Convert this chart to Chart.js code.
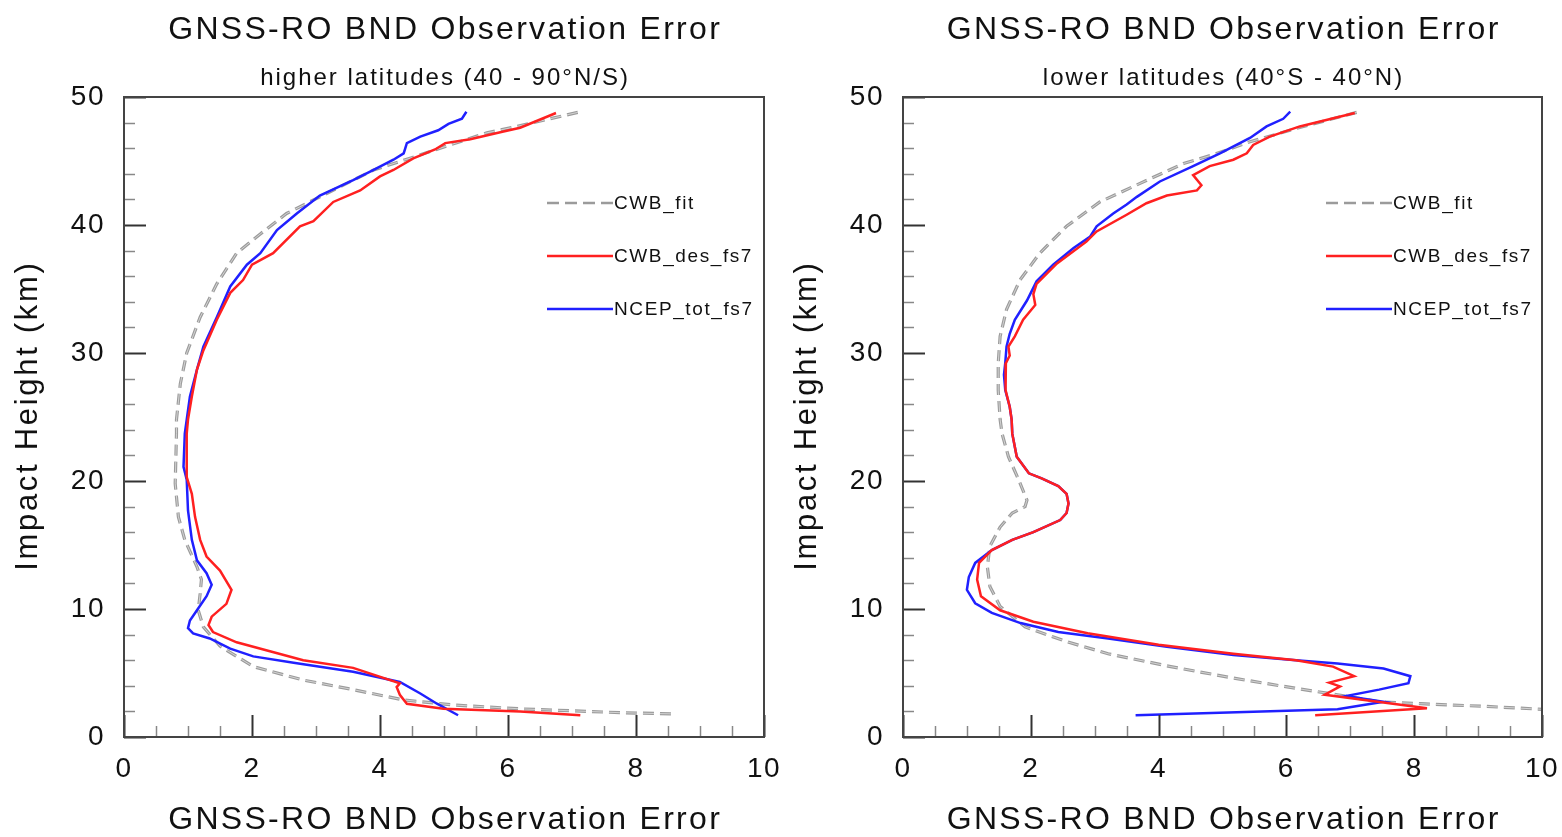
<!DOCTYPE html>
<html>
<head>
<meta charset="utf-8">
<script src="https://cdn.jsdelivr.net/npm/chart.js@4.4.1/dist/chart.umd.min.js"></script>
<style>
  html, body { margin: 0; padding: 0; background: #fff; }
  #wrap { position: relative; width: 1562px; height: 837px; overflow: hidden; }
  .panel { position: absolute; top: 0; }
  #left { left: 0; }
  #right { left: 779px; }
</style>
</head>
<body>
<div id="wrap">
  <div class="panel" id="left"><canvas id="chartHi" width="781" height="837"></canvas></div>
  <div class="panel" id="right"><canvas id="chartLo" width="783" height="837"></canvas></div>
</div>
<script>
// --- data: impact height (km) vs observation error ---
// higher latitudes (40 - 90N/S)
const hiFitHeight = [48.8, 47.7, 47.2, 46.0, 45.3, 44.3, 42.2, 40.9, 39.3, 37.8, 35.4, 32.8, 30.0, 27.6, 24.8, 23.7, 19.8, 17.2, 15.4, 13.3, 12.3, 11.2, 9.9, 8.6, 7.1, 5.5, 4.45, 3.7, 2.9, 2.5, 2.2, 1.9, 1.8];
const hiFitError  = [7.09, 6.14, 5.67, 4.94, 4.52, 3.90, 3.06, 2.54, 2.13, 1.76, 1.45, 1.19, 0.98, 0.88, 0.82, 0.82, 0.80, 0.85, 0.95, 1.14, 1.21, 1.19, 1.16, 1.24, 1.50, 2.02, 2.80, 3.58, 4.36, 5.15, 6.19, 7.75, 8.61];

const hiDesHeight = [48.75, 47.6, 47.3, 46.7, 46.4, 45.9, 45.2, 44.3, 43.8, 42.7, 41.8, 40.3, 39.9, 37.8, 36.9, 35.7, 34.7, 32.6, 30.2, 28.7, 26.6, 24.8, 23.7, 20.3, 19.0, 17.2, 15.4, 14.1, 13.0, 11.5, 10.4, 9.4, 8.75, 8.2, 7.4, 6.7, 6.0, 5.4, 4.2, 3.9, 3.3, 2.6, 2.2, 2.0, 1.7];
const hiDesError  = [6.75, 6.19, 5.93, 5.41, 5.02, 4.86, 4.52, 4.21, 4.00, 3.69, 3.27, 2.96, 2.75, 2.33, 2.00, 1.86, 1.66, 1.45, 1.24, 1.14, 1.06, 1.00, 0.98, 0.98, 1.06, 1.11, 1.19, 1.29, 1.50, 1.68, 1.60, 1.37, 1.32, 1.39, 1.76, 2.28, 2.80, 3.58, 4.31, 4.26, 4.31, 4.42, 4.99, 6.19, 7.13];

const hiTotHeight = [48.85, 48.3, 47.9, 47.4, 46.9, 46.4, 45.6, 45.1, 44.3, 43.5, 42.3, 40.9, 39.6, 37.8, 36.9, 35.2, 32.8, 30.5, 28.7, 26.6, 24.8, 23.7, 21.1, 20.1, 17.7, 15.4, 13.8, 12.8, 11.9, 11.0, 9.9, 9.1, 8.5, 8.1, 7.7, 6.9, 6.3, 5.8, 5.1, 4.3, 3.4, 2.6, 1.7];
const hiTotError  = [5.35, 5.28, 5.07, 4.91, 4.63, 4.42, 4.37, 4.21, 3.90, 3.58, 3.06, 2.70, 2.39, 2.13, 1.92, 1.66, 1.45, 1.24, 1.14, 1.03, 0.98, 0.95, 0.93, 0.98, 1.00, 1.06, 1.14, 1.29, 1.37, 1.29, 1.14, 1.03, 1.00, 1.08, 1.34, 1.66, 2.02, 2.65, 3.58, 4.31, 4.63, 4.89, 5.22];

// lower latitudes (40S - 40N)
const loFitHeight = [48.8, 47.55, 46.5, 45.5, 44.8, 43.25, 41.8, 39.9, 37.8, 35.7, 33.4, 31.3, 29.2, 27.1, 24.8, 23.7, 21.9, 20.1, 18.5, 18.0, 17.5, 16.4, 14.9, 13.3, 11.75, 10.2, 8.6, 7.45, 6.5, 5.5, 4.6, 3.8, 3.3, 2.75, 2.6, 2.4, 2.15, 2.05];
const loFitError  = [7.10, 6.16, 5.43, 4.86, 4.39, 3.71, 3.08, 2.56, 2.14, 1.83, 1.62, 1.52, 1.49, 1.49, 1.52, 1.55, 1.65, 1.81, 1.94, 1.91, 1.71, 1.52, 1.36, 1.32, 1.36, 1.52, 1.91, 2.56, 3.21, 4.19, 5.17, 6.15, 6.80, 7.45, 8.10, 9.08, 10.06, 10.4];

const loDesHeight = [48.75, 47.7, 46.9, 46.25, 45.6, 45.1, 44.6, 43.9, 43.1, 42.7, 42.3, 41.7, 40.8, 39.5, 38.7, 37.0, 35.4, 34.6, 33.75, 32.6, 31.3, 30.5, 29.8, 29.2, 28.3, 27.1, 25.8, 24.8, 23.7, 21.9, 20.6, 20.2, 19.6, 19.0, 18.25, 17.5, 16.95, 16.0, 15.4, 14.6, 13.6, 12.3, 11.0, 9.9, 9.0, 8.1, 7.2, 6.5, 6.0, 5.5, 4.75, 4.25, 3.95, 3.3, 2.25, 1.7];
const loDesError  = [7.07, 6.21, 5.74, 5.48, 5.38, 5.17, 4.80, 4.54, 4.67, 4.60, 4.13, 3.81, 3.50, 3.03, 2.87, 2.41, 2.09, 2.04, 2.07, 1.88, 1.75, 1.65, 1.67, 1.61, 1.60, 1.61, 1.67, 1.70, 1.71, 1.78, 1.97, 2.17, 2.43, 2.56, 2.59, 2.56, 2.46, 2.04, 1.71, 1.39, 1.19, 1.16, 1.22, 1.52, 2.04, 2.89, 4.00, 5.17, 6.15, 6.73, 7.06, 6.67, 6.84, 6.60, 8.20, 6.45];

const loTotHeight = [48.85, 48.3, 47.7, 46.8, 45.6, 44.6, 43.4, 42.2, 41.6, 40.9, 39.9, 39.1, 38.2, 36.9, 35.6, 34.1, 32.6, 31.5, 30.5, 29.2, 28.3, 27.1, 25.8, 24.8, 23.7, 21.9, 20.6, 20.2, 19.6, 19.0, 18.25, 17.5, 16.95, 16.0, 15.4, 14.6, 13.6, 12.5, 11.5, 10.45, 9.7, 8.9, 8.2, 7.7, 7.05, 6.4, 6.0, 5.75, 5.35, 4.75, 4.2, 3.7, 3.2, 2.75, 2.16, 1.7];
const loTotError  = [6.06, 5.95, 5.69, 5.43, 4.96, 4.54, 4.02, 3.66, 3.50, 3.29, 3.03, 2.93, 2.67, 2.35, 2.09, 1.94, 1.75, 1.67, 1.62, 1.60, 1.58, 1.60, 1.67, 1.70, 1.71, 1.78, 1.97, 2.17, 2.43, 2.56, 2.59, 2.56, 2.46, 2.04, 1.71, 1.39, 1.13, 1.03, 1.00, 1.13, 1.39, 1.84, 2.43, 3.21, 4.13, 5.17, 6.15, 6.80, 7.52, 7.94, 7.91, 7.45, 6.93, 7.52, 6.80, 3.64];

const legendLabels = ['CWB_fit', 'CWB_des_fs7', 'NCEP_tot_fs7'];
const xTickValues = [0, 2, 4, 6, 8, 10];
const yTickValues = [0, 10, 20, 30, 40, 50];
const mainTitle = 'GNSS-RO BND Observation Error';
const yTitle = 'Impact Height (km)';

const FONT = '"Liberation Sans", Arial, Helvetica, sans-serif';
const RED = 'rgb(255, 32, 32)';
const BLUE = 'rgb(32, 32, 255)';
const GREY = 'rgb(155, 155, 155)';

function pts(err, hgt) {
  return err.map((e, i) => ({ x: e, y: hgt[i] }));
}

function spaced(ctx, str, x, y, size, spacing, align) {
  ctx.font = size + 'px ' + FONT;
  ctx.letterSpacing = spacing + 'px';
  ctx.textAlign = align;
  ctx.fillText(str, align === 'center' ? x + spacing / 2 : x, y);
}

// frame, inward ticks, titles and the legend box
const panelDecor = {
  id: 'panel',
  beforeDraw(chart) {
    chart.ctx.letterSpacing = '1.5px';
  },
  afterDraw(chart, args, opts) {
    const ctx = chart.ctx;
    const { left, right, top, bottom } = chart.chartArea;
    const xs = chart.scales.x, ys = chart.scales.y;
    const cx = (left + right) / 2;
    ctx.save();

    // minor / major ticks pointing into the plot
    for (let v = 0; v <= 10; v += 0.5) {
      const px = Math.round(xs.getPixelForValue(v)) + 0.5;
      const major = v % 2 === 0;
      ctx.strokeStyle = major ? '#333' : '#888';
      ctx.lineWidth = major ? 2 : 1.5;
      ctx.beginPath();
      ctx.moveTo(px, bottom);
      ctx.lineTo(px, bottom - (major ? 22 : 11));
      ctx.stroke();
    }
    for (let h = 0; h <= 50; h += 2) {
      const py = Math.round(ys.getPixelForValue(h)) + 0.5;
      const major = h % 10 === 0;
      ctx.strokeStyle = major ? '#333' : '#888';
      ctx.lineWidth = major ? 2 : 1.5;
      ctx.beginPath();
      ctx.moveTo(left, py);
      ctx.lineTo(left + (major ? 22 : 11), py);
      ctx.stroke();
    }

    ctx.strokeStyle = '#444';
    ctx.lineWidth = 2;
    ctx.strokeRect(left, top, right - left, bottom - top);

    // titles
    ctx.fillStyle = '#111';
    ctx.textBaseline = 'alphabetic';
    spaced(ctx, mainTitle, cx, 38.5, 32, 2.3, 'center');
    spaced(ctx, opts.subtitle, cx, 85, 24, 2, 'center');
    spaced(ctx, mainTitle, cx, 828.5, 32, 2.3, 'center');

    ctx.save();
    ctx.translate(37, (top + bottom) / 2);
    ctx.rotate(-Math.PI / 2);
    spaced(ctx, yTitle, 0, 0, 31, 2.7, 'center');
    ctx.restore();

    // legend
    const rows = [203, 256, 309];
    const styles = [
      { color: GREY, dash: [12, 6], width: 2.5 },
      { color: RED, dash: [], width: 2.5 },
      { color: BLUE, dash: [], width: 2.5 }
    ];
    rows.forEach((y, i) => {
      ctx.strokeStyle = styles[i].color;
      ctx.lineWidth = styles[i].width;
      ctx.setLineDash(styles[i].dash);
      ctx.beginPath();
      ctx.moveTo(left + 423, y);
      ctx.lineTo(left + 489, y);
      ctx.stroke();
      ctx.setLineDash([]);
      ctx.textBaseline = 'middle';
      ctx.fillStyle = '#111';
      spaced(ctx, legendLabels[i], left + 490, y + 1, 19, 1.6, 'left');
    });
    ctx.restore();
  }
};

function makeChart(id, subtitle, rightPad, fitE, fitH, desE, desH, totE, totH) {
  const tickFont = { family: FONT, size: 28 };
  return new Chart(document.getElementById(id).getContext('2d'), {
    type: 'scatter',
    data: {
      datasets: [
        { label: legendLabels[1], data: pts(desE, desH), showLine: true, borderColor: RED, borderWidth: 2.5, pointRadius: 0 },
        { label: legendLabels[2], data: pts(totE, totH), showLine: true, borderColor: BLUE, borderWidth: 2.5, pointRadius: 0 },
        { label: legendLabels[0] + ' inner', data: pts(fitE, fitH), showLine: true, borderColor: 'rgb(225, 225, 225)', borderWidth: 0.8, borderDash: [11, 6], pointRadius: 0 },
        { label: legendLabels[0], data: pts(fitE, fitH), showLine: true, borderColor: GREY, borderWidth: 3.2, borderDash: [11, 6], pointRadius: 0 }
      ]
    },
    options: {
      responsive: false,
      animation: false,
      layout: { padding: { top: 97, left: 0, right: rightPad, bottom: 0 } },
      plugins: {
        legend: { display: false },
        tooltip: { enabled: false },
        panel: { subtitle }
      },
      scales: {
        x: {
          type: 'linear', min: 0, max: 10,
          afterBuildTicks: s => { s.ticks = xTickValues.map(v => ({ value: v })); },
          ticks: { padding: 15, color: '#111', font: tickFont },
          grid: { display: false, drawTicks: false },
          border: { display: false },
          afterFit: s => { s.height = 100; s.paddingLeft = 0; s.paddingRight = 0; }
        },
        y: {
          type: 'linear', min: 0, max: 50,
          afterBuildTicks: s => { s.ticks = yTickValues.map(v => ({ value: v })); },
          ticks: { padding: 19, color: '#111', font: tickFont },
          grid: { display: false, drawTicks: false },
          border: { display: false },
          afterFit: s => { s.width = 124; s.paddingTop = 0; s.paddingBottom = 0; }
        }
      }
    },
    plugins: [panelDecor]
  });
}

makeChart('chartHi', 'higher latitudes (40 - 90°N/S)', 17, hiFitError, hiFitHeight, hiDesError, hiDesHeight, hiTotError, hiTotHeight);
makeChart('chartLo', 'lower latitudes (40°S - 40°N)', 20, loFitError, loFitHeight, loDesError, loDesHeight, loTotError, loTotHeight);
</script>
</body>
</html>
